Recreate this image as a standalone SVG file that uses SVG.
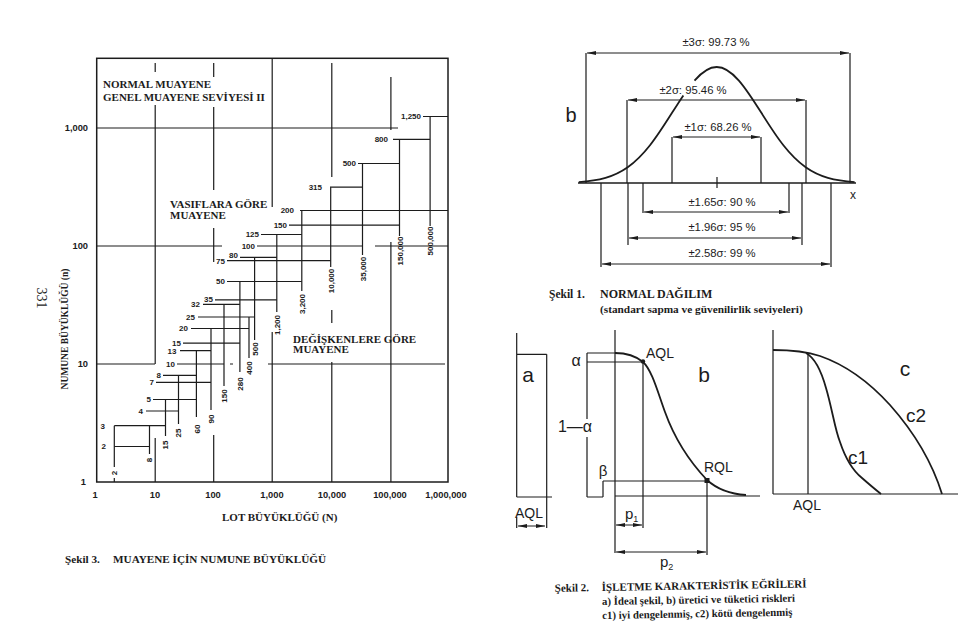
<svg xmlns="http://www.w3.org/2000/svg" width="960" height="630" viewBox="0 0 960 630">
<style>
.bg{fill:#ffffff}
.ln{stroke:#1c1c1c;stroke-width:1.2;fill:none}
.fr{stroke:#1c1c1c;stroke-width:1.5;fill:none}
.cv{stroke:#1c1c1c;stroke-width:1.8;fill:none}
.dim{stroke:#1c1c1c;stroke-width:1;fill:none;marker-start:url(#ah);marker-end:url(#ah)}
.sl{font-family:"Liberation Sans",Arial,sans-serif;font-weight:bold;font-size:8px;fill:#1c1c1c}
.ax{font-family:"Liberation Sans",Arial,sans-serif;font-weight:bold;font-size:9.3px;fill:#1c1c1c}
.sb{font-family:"Liberation Serif","Times New Roman",serif;font-weight:bold;font-size:11px;fill:#1c1c1c}
.bs{font-family:"Liberation Sans",Arial,sans-serif;font-size:11.3px;fill:#1c1c1c}
.oc{font-family:"Liberation Sans",Arial,sans-serif;font-size:14px;fill:#1c1c1c}
.big{font-family:"Liberation Sans",Arial,sans-serif;font-size:21px;fill:#1c1c1c}
</style>
<defs>
<marker id="ah" viewBox="0 0 9 4" refX="9" refY="2" markerWidth="9" markerHeight="4" markerUnits="userSpaceOnUse" orient="auto-start-reverse">
<path d="M0,0 L9,2 L0,4 z" fill="#1c1c1c"/>
</marker>
</defs>
<rect class="bg" x="0" y="0" width="960" height="630"/>

<!-- ================= Şekil 3 : sample size chart ================= -->
<g id="fig3">
<g id="fig3-frame">
<rect class="fr" x="96.7" y="58.3" width="351.3" height="423.7"/>
<path class="ln" d="M155.2,63V72 M155.2,105V364 M155.2,438V482
M213.7,63V77 M213.7,107V190 M213.7,228V262 M213.7,435V482
M272.2,58V207 M272.2,332V482
M331.8,63V177 M331.8,310V323 M331.8,362V482
M390.9,77V130 M390.9,242V482
M97,128H398 M97,246H222 M375,246H448 M97,364H155 M230,364H233 M268,364H445"/>
</g>
<g id="fig3-steps">
<path class="ln" d="M114.3,446.5H149.5
M114.3,425.7H165.5
M146,411H178.5
M153,399.5H196.1
M156,382.3H211
M163,375.4H196.1
M177,364H224
M180,350.6H211
M183,343.2H239.9
M191,328.5H249
M198,317H254.6
M203,304.4H239.9
M215,299.8H276.8
M227,281.5H301.8
M227,260.7H330.7
M240,257.4H276.8
M257,246H362.5
M261,234.5H301.8
M289,225.2H399.5
M300,210.5H448
M330,187.2H362.5
M358,163.5H399.5
M393,139.4H430.1
M423,116.5H448"/>
<path class="ln" d="M114.3,425.7V467 M114.3,478V482
M149.5,425.7V454
M165.5,399.5V436
M178.5,375.4V424
M196.4,350.6V417
M211,328.5V410
M224,304.4V386
M239.9,281.5V372
M249,317V358
M254.6,257.4V340
M276.8,234.5V312
M301.8,210.5V291
M330.7,187.2V267
M362.5,163.5V255
M399.5,139.4V236
M430.1,116.5V226"/>
</g>
<g id="fig3-level-labels" class="sl" text-anchor="end">
<text x="106" y="449.3">2</text>
<text x="105" y="428.5">3</text>
<text x="143" y="413.8">4</text>
<text x="151" y="402.3">5</text>
<text x="154" y="385.1">7</text>
<text x="161" y="378.2">8</text>
<text x="175" y="366.8">10</text>
<text x="176.5" y="353.9">13</text>
<text x="181" y="345.8">15</text>
<text x="188" y="331.3">20</text>
<text x="195" y="319.8">25</text>
<text x="200" y="307.4">32</text>
<text x="213" y="302.4">35</text>
<text x="225" y="284.3">50</text>
<text x="225" y="263.7">75</text>
<text x="238" y="258.4">80</text>
<text x="255" y="248.8">100</text>
<text x="259" y="237.3">125</text>
<text x="287" y="228">150</text>
<text x="294" y="213.3">200</text>
<text x="322" y="190">315</text>
<text x="356" y="166.3">500</text>
<text x="388" y="142.2">800</text>
<text x="421" y="119.3">1,250</text>
</g>
<g id="fig3-lot-labels" class="sl" text-anchor="middle">
<text transform="translate(114.3,473) rotate(-90)" dy="0.35em">2</text>
<text transform="translate(149.5,460) rotate(-90)" dy="0.35em">8</text>
<text transform="translate(165.5,445) rotate(-90)" dy="0.35em">15</text>
<text transform="translate(178.5,433) rotate(-90)" dy="0.35em">25</text>
<text transform="translate(197.5,429) rotate(-90)" dy="0.35em">60</text>
<text transform="translate(211.5,419) rotate(-90)" dy="0.35em">90</text>
<text transform="translate(224.5,396) rotate(-90)" dy="0.35em">150</text>
<text transform="translate(240.2,384) rotate(-90)" dy="0.35em">280</text>
<text transform="translate(249.3,368) rotate(-90)" dy="0.35em">400</text>
<text transform="translate(255,349) rotate(-90)" dy="0.35em">500</text>
<text transform="translate(277.3,325) rotate(-90)" dy="0.35em">1,200</text>
<text transform="translate(302.3,304) rotate(-90)" dy="0.35em">3,200</text>
<text transform="translate(331.3,281) rotate(-90)" dy="0.35em">10,000</text>
<text transform="translate(363,269) rotate(-90)" dy="0.35em">35,000</text>
<text transform="translate(400,251) rotate(-90)" dy="0.35em">150,000</text>
<text transform="translate(430.6,241) rotate(-90)" dy="0.35em">500,000</text>
</g>
<g id="fig3-axes" class="ax">
<text x="88" y="131.3" text-anchor="end">1,000</text>
<text x="88" y="249.3" text-anchor="end">100</text>
<text x="88" y="367.3" text-anchor="end">10</text>
<text x="86" y="485.3" text-anchor="end">1</text>
<text x="95" y="498" text-anchor="middle">1</text>
<text x="155" y="498" text-anchor="middle">10</text>
<text x="213" y="498" text-anchor="middle">100</text>
<text x="272" y="498" text-anchor="middle">1,000</text>
<text x="332" y="498" text-anchor="middle">10,000</text>
<text x="390" y="498" text-anchor="middle">100,000</text>
<text x="446" y="498" text-anchor="middle">1,000,000</text>
</g>
<g id="fig3-texts" class="sb">
<text x="103" y="88">NORMAL MUAYENE</text>
<text x="103" y="100.5">GENEL MUAYENE SEVİYESİ II</text>
<text x="170" y="208">VASIFLARA GÖRE</text>
<text x="170" y="218.5">MUAYENE</text>
<text x="293" y="342.5">DEĞİŞKENLERE GÖRE</text>
<text x="293" y="352.8">MUAYENE</text>
<text x="222" y="520.5">LOT BÜYÜKLÜĞÜ (N)</text>
<text transform="translate(65,329) rotate(-90)" text-anchor="middle" dy="0.35em" style="font-size:9.5px">NUMUNE BÜYÜKLÜĞÜ (n)</text>
<text transform="translate(42,298) rotate(90)" text-anchor="middle" dy="0.35em" style="font-weight:normal;font-size:14px">331</text>
<text x="65" y="563" style="font-size:11.2px">Şekil 3.</text>
<text x="113" y="563" style="font-size:11.2px">MUAYENE İÇİN NUMUNE BÜYÜKLÜĞÜ</text>
</g>
</g>

<!-- ================= Şekil 1 : normal distribution ================= -->
<g id="fig1">
<g id="fig1-curve">
<path class="cv" d="M578.8,182.05 C587.7,181.46 596.6,180.45 605.5,177.9 C612.9,175.78 620.3,172.52 627.7,167.3 C635.1,162.06 642.6,154.74 650,145.3 C657.4,135.9 664.8,124.3 672.2,112.6 C675.9,106.73 679.63,100.86 683.35,95.4"/>
<path class="cv" d="M694.5,80.6 C701.9,72.09 709.3,67 716.7,67 C724.1,67 731.5,72.09 738.9,80.6 C746.3,89.14 753.8,100.85 761.2,112.6 C768.6,124.3 776,135.9 783.4,145.3 C790.8,154.74 798.3,162.06 805.7,167.3 C813.1,172.52 820.5,175.78 827.9,177.9 C836.8,180.45 845.7,181.46 854.6,182.05"/>
</g>
<g id="fig1-axis">
<path class="fr" d="M578,183H856"/>
<path class="ln" d="M717,177V188"/>
</g>
<g id="fig1-dims">
<path class="ln" d="M586,53V183 M850,53V183 M627,100V183 M806,100V183 M672,137V183 M761,137V183
M643,183V213 M789,183V213 M628,183V245 M802,183V245 M601,183V267 M831,183V267"/>
<path class="dim" d="M587,53H849"/>
<path class="dim" d="M628,100H805"/>
<path class="dim" d="M673,137H760"/>
<path class="dim" d="M644,212H788"/>
<path class="dim" d="M629,238H801"/>
<path class="dim" d="M602,264H830"/>
</g>
<g id="fig1-labels" class="bs" text-anchor="middle">
<text x="716" y="46">±3σ: 99.73 %</text>
<text x="693" y="94">±2σ: 95.46 %</text>
<text x="718" y="131">±1σ: 68.26 %</text>
<text x="722" y="206">±1.65σ: 90 %</text>
<text x="722" y="231">±1.96σ: 95 %</text>
<text x="722" y="257">±2.58σ: 99 %</text>
<text x="853" y="199" style="font-size:12px">x</text>
<text x="571" y="122" class="big" style="font-size:20px">b</text>
</g>
<g id="fig1-caption" class="sb">
<text x="549" y="298" style="font-size:11.5px">Şekil 1.</text>
<text x="600" y="298" style="font-size:12px">NORMAL DAĞILIM</text>
<text x="600" y="313" style="font-size:11.3px">(standart sapma ve güvenilirlik seviyeleri)</text>
</g>
</g>

<!-- ================= Şekil 2 : OC curves ================= -->
<g id="fig2">
<g id="oc-a">
<path class="ln" d="M516.7,333V497 M516.7,354.3H546.7 M546.7,354.3V528 M516.7,497H552 M516.7,517V528"/>
<path class="dim" d="M518,526H545"/>
<text class="big" x="528" y="382" text-anchor="middle">a</text>
<text class="oc" x="529" y="518" text-anchor="middle">AQL</text>
</g>
<g id="oc-b">
<path class="ln" d="M615,330V553 M615,496H760
M587,353H617 M587,362H643 M587,353V419 M587,437V497 M587,497H603 M603,481V497 M603,481H707
M643,362V528 M707,481V555"/>
<path class="dim" d="M616,525H642"/>
<path class="dim" d="M616,552H706"/>
<path class="cv" d="M615,353 C628,353 637,357 643,362 C652,370 658,393 665,412 C674,437 690,462 707,480 C718,490 730,494 746,495"/>
<circle cx="643" cy="361.5" r="2.2" fill="#1c1c1c"/>
<rect x="704.5" y="478" width="5" height="5" fill="#1c1c1c"/>
<text class="oc" x="576" y="366" text-anchor="middle" style="font-size:16px">α</text>
<text class="oc" x="575" y="432" text-anchor="middle" style="font-size:16px">1—α</text>
<text class="oc" x="603" y="476" text-anchor="middle" style="font-size:15px">β</text>
<text class="oc" x="646" y="358">AQL</text>
<text class="oc" x="704" y="472">RQL</text>
<text class="big" x="704" y="382" text-anchor="middle">b</text>
<text class="oc" x="625" y="519" style="font-size:15px">p<tspan dy="3" style="font-size:9px">1</tspan></text>
<text class="oc" x="660" y="567" style="font-size:15px">p<tspan dy="3" style="font-size:9px">2</tspan></text>
</g>
<g id="oc-c">
<path class="ln" d="M773,330V494 M773,494H958 M808,354V494"/>
<path class="cv" d="M773,350 C790,350 805,351 820,356 C846,365 870,383 890,405 C914,432 932,462 942,494"/>
<path class="cv" d="M806,353 C815,358 821,370 826,388 C832,408 835,430 840,442 C845,457 852,470 862,478 C870,485 876,490 881,494"/>
<text class="big" x="905" y="376" text-anchor="middle">c</text>
<text class="big" x="916" y="422" text-anchor="middle" style="font-size:19px">c2</text>
<text class="big" x="858" y="464" text-anchor="middle" style="font-size:19px">c1</text>
<text class="oc" x="807" y="510" text-anchor="middle">AQL</text>
</g>
<g id="fig2-caption" class="sb" transform="rotate(-1 602 600)">
<text x="555" y="591" style="font-size:11px">Şekil 2.</text>
<text x="602" y="591">İŞLETME KARAKTERİSTİK EĞRİLERİ</text>
<text x="602" y="605" style="font-size:10.8px">a) İdeal şekil, b) üretici ve tüketici riskleri</text>
<text x="602" y="619" style="font-size:10.8px">c1) iyi dengelenmiş, c2) kötü dengelenmiş</text>
</g>
</g>
</svg>
